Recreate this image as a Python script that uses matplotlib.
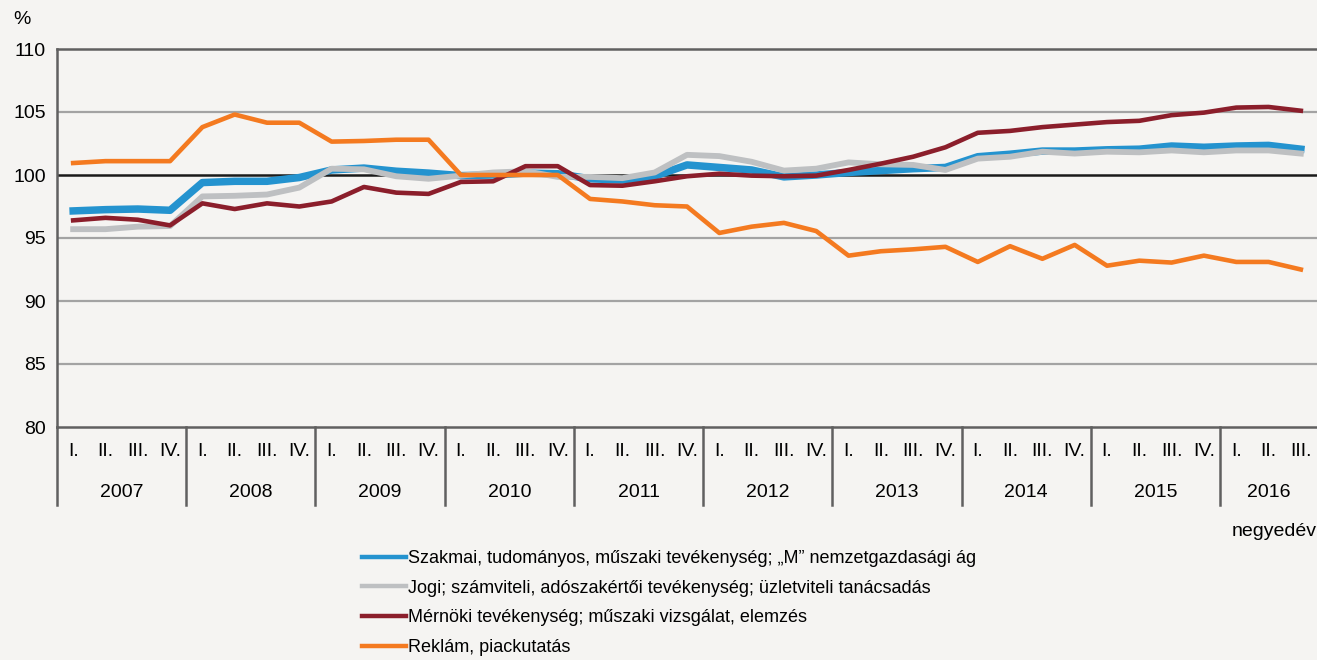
import matplotlib
matplotlib.use("Agg")
import matplotlib.pyplot as plt
import matplotlib.transforms as mtransforms

plt.rcParams['font.family'] = ['Liberation Sans Narrow', 'Liberation Sans', 'DejaVu Sans']

## Data

years = ["2007", "2008", "2009", "2010", "2011", "2012", "2013", "2014", "2015", "2016"]
quarters = ["I.", "II.", "III.", "IV."]
quarter_labels = [q for y in years for q in quarters][:39]

szakmai = [97.15, 97.25, 97.3, 97.2, 99.4, 99.5, 99.5, 99.8, 100.4, 100.55, 100.3, 100.15,
           99.95, 100.0, 100.15, 100.1, 99.7, 99.6, 99.9, 100.8, 100.6, 100.4, 99.85, 100.0,
           100.2, 100.35, 100.5, 100.6, 101.45, 101.65, 101.9, 101.9, 102.0, 102.05, 102.3,
           102.2, 102.3, 102.35, 102.05]
jogi = [95.7, 95.7, 95.9, 95.95, 98.3, 98.35, 98.45, 99.0, 100.5, 100.45, 99.9, 99.7,
        99.95, 100.2, 100.3, 99.85, 99.85, 99.75, 100.2, 101.6, 101.5, 101.05, 100.35, 100.5,
        101.0, 100.85, 100.8, 100.4, 101.3, 101.45, 101.85, 101.7, 101.85, 101.8, 101.95,
        101.8, 101.95, 101.95, 101.7]
mernoki = [96.4, 96.6, 96.45, 96.0, 97.75, 97.3, 97.75, 97.5, 97.9, 99.05, 98.6, 98.5,
           99.45, 99.5, 100.7, 100.7, 99.2, 99.15, 99.5, 99.9, 100.1, 99.95, 99.9, 99.95,
           100.4, 100.9, 101.45, 102.2, 103.35, 103.5, 103.8, 104.0, 104.2, 104.3, 104.75,
           104.95, 105.35, 105.4, 105.1]
reklam = [100.95, 101.1, 101.1, 101.1, 103.8, 104.8, 104.15, 104.15, 102.65, 102.7, 102.8, 102.8,
          100.0, 100.0, 100.0, 100.0, 98.1, 97.9, 97.6, 97.5, 95.4, 95.9, 96.2, 95.55,
          93.6, 93.95, 94.1, 94.3, 93.1, 94.35, 93.35, 94.45, 92.8, 93.2, 93.05, 93.6,
          93.1, 93.1, 92.5]

labels = ["Szakmai, tudományos, műszaki tevékenység; „M” nemzetgazdasági ág",
          "Jogi; számviteli, adószakértői tevékenység; üzletviteli tanácsadás",
          "Mérnöki tevékenység; műszaki vizsgálat, elemzés",
          "Reklám, piackutatás"]

## Figure

bg = "#f5f4f2"
fig = plt.figure(figsize=(13.17, 6.6), dpi=100, facecolor=bg)
ax = fig.add_axes([57 / 1317, 1 - 427 / 660, 1 - 57 / 1317, (427 - 49) / 660])
ax.set_facecolor(bg)

x = list(range(len(szakmai)))

# grid lines
for v in [85, 90, 95, 105]:
    ax.axhline(v, color="#a3a3a3", lw=1.6, zorder=1)
ax.axhline(100, color="#1a1a1a", lw=1.8, zorder=1)

l1, = ax.plot(x, szakmai, color="#2493cf", lw=5.4, zorder=2, solid_joinstyle="round")
l2, = ax.plot(x, jogi, color="#bec0c2", lw=4.2, zorder=3, solid_joinstyle="round")
l3, = ax.plot(x, mernoki, color="#8b1e2b", lw=3.3, zorder=4, solid_joinstyle="round")
l4, = ax.plot(x, reklam, color="#f47a20", lw=3.3, zorder=5, solid_joinstyle="round")

ax.set_xlim(-0.5, len(x) - 0.5)
ax.set_ylim(80, 110)
ax.set_yticks([80, 85, 90, 95, 100, 105, 110])
ax.tick_params(axis="y", length=0, pad=8, labelsize=14)
ax.set_xticks([])

for s in ["left", "top", "bottom"]:
    ax.spines[s].set_color("#606060")
    ax.spines[s].set_linewidth(1.8)
ax.spines["right"].set_visible(False)

# category axis below the plot
trans = mtransforms.blended_transform_factory(ax.transData, ax.transAxes)
for i, q in enumerate(quarter_labels):
    ax.text(i, -0.066, q, transform=trans, ha="center", va="center", fontsize=14, clip_on=False)
for k, y in enumerate(years):
    start = 4 * k - 0.5
    end = min(4 * k + 3.5, len(x) - 0.5)
    ax.text((start + end) / 2, -0.172, y, transform=trans, ha="center", va="center",
            fontsize=14, clip_on=False)
    ax.plot([start, start], [0, -0.206], transform=trans, color="#606060", lw=1.8,
            clip_on=False)

fig.text(13 / 1317, 1 - 20 / 660, "%", fontsize=14, va="center")
fig.text(1.0, 1 - 532 / 660, "negyedév", fontsize=14, ha="right", va="center")

leg = fig.legend([l1, l2, l3, l4], labels, loc="upper left",
                 bbox_to_anchor=(362 / 1317, 1 - 550 / 660), frameon=False, fontsize=13,
                 handlelength=2.45, handletextpad=0.1, labelspacing=0.7, borderpad=0,
                 borderaxespad=0)
for h in leg.get_lines():
    h.set_linewidth(3.2)

fig.savefig("out.png", dpi=100, facecolor=bg)
